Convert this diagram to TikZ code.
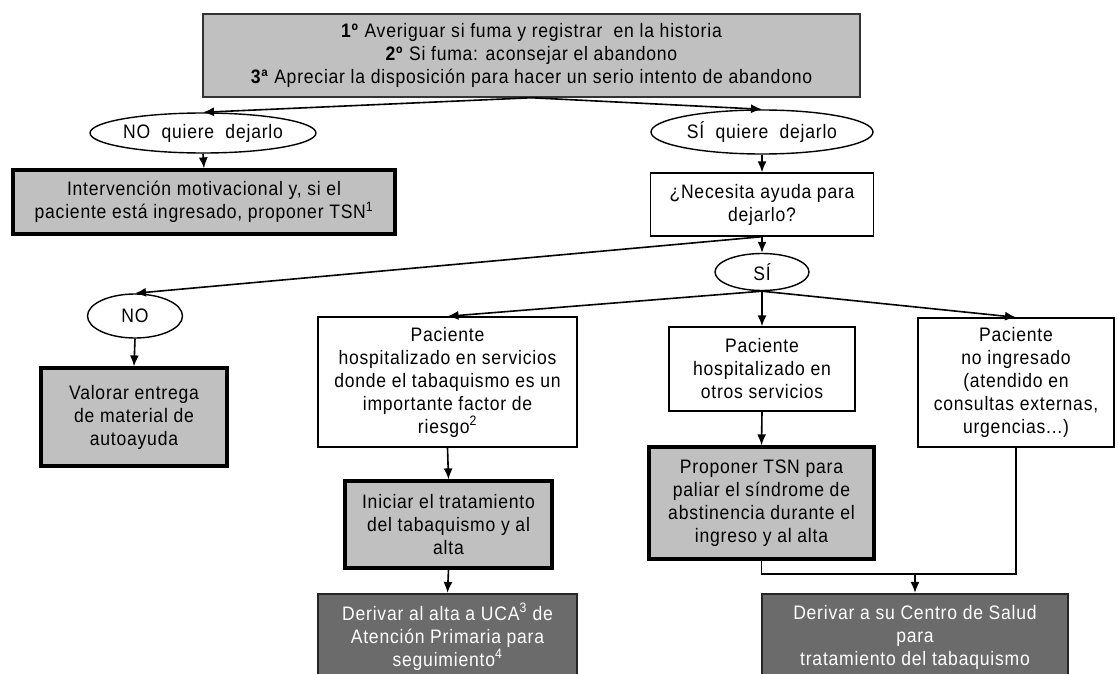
\documentclass[tikz,border=0pt]{standalone}
\usepackage{fontspec}
\setmainfont{Liberation Sans}[LetterSpace=4, FakeStretch=0.9]
\usetikzlibrary{arrows.meta,shapes.geometric}
\definecolor{lg}{HTML}{C0C0C0}
\definecolor{dg}{HTML}{6B6B6B}
\tikzset{
  base/.style={draw=black, align=center, inner sep=0pt, font=\fontsize{19.5}{23}\selectfont},
  plainbox/.style={base, fill=white, line width=1.4pt},
  greybox/.style={base, fill=lg, line width=3.2pt},
  darkbox/.style={base, fill=dg, text=white, draw=black!85, line width=2.2pt},
  topbox/.style={base, fill=lg, line width=1.5pt, draw=black!80},
  oval/.style={base, ellipse, fill=white, line width=1.4pt},
  arr/.style={-{Latex[length=11pt,width=9pt]}, line width=1.6pt},
  ln/.style={line width=1.6pt},
}
\begin{document}
\begin{tikzpicture}[x=1pt,y=-1pt]
\clip (0,0) rectangle (1118,674);
\fill[white] (0,0) rectangle (1118,674);

\node[topbox, minimum width=657pt, minimum height=83pt] (top) at (531.5,55.5)
  {\textbf{1º}\ Averiguar si fuma y registrar\ \ en la historia\\
   \textbf{2º}\ Si fuma: aconsejar el abandono\\
   \textbf{3ª}\ Apreciar la disposición para hacer un serio intento de abandono};

\node[oval, minimum width=213pt, minimum height=40pt] (noq) at (203,133) {NO\ \ quiere\ \ dejarlo};
\node[oval, minimum width=222pt, minimum height=44pt] (siq) at (762,132) {SÍ\ \ quiere\ \ dejarlo};

\node[greybox, minimum width=382pt, minimum height=64pt] (interv) at (204,202)
  {Intervención motivacional y, si el\\paciente está ingresado, proponer TSN\textsuperscript{1}};
\node[plainbox, minimum width=223pt, minimum height=63pt] (neces) at (762,204.5)
  {¿Necesita ayuda para\\dejarlo?};

\node[oval, minimum width=94pt, minimum height=37pt] (si) at (762,272) {SÍ};
\node[oval, minimum width=95pt, minimum height=44pt] (no) at (135,316) {NO};

\node[greybox, minimum width=186pt, minimum height=98pt] (valor) at (134,417)
  {Valorar entrega\\de material de\\autoayuda};

\node[plainbox, minimum width=259pt, minimum height=130pt] (pac1) at (447.5,382)
  {Paciente\\hospitalizado en servicios\\donde el tabaquismo es un\\importante factor de\\riesgo\textsuperscript{2}};
\node[plainbox, minimum width=186pt, minimum height=84pt] (pac2) at (762,369)
  {Paciente\\hospitalizado en\\otros servicios};
\node[plainbox, minimum width=196pt, minimum height=129pt] (pac3) at (1016,382.5)
  {Paciente\\no ingresado\\(atendido en\\consultas externas,\\urgencias...)};

\node[greybox, minimum width=207pt, minimum height=87pt] (inic) at (448.5,524.5)
  {Iniciar el tratamiento\\del tabaquismo y al\\alta};
\node[greybox, minimum width=225pt, minimum height=112pt] (prop) at (761.5,503)
  {Proponer TSN para\\paliar el síndrome de\\abstinencia durante el\\ingreso y al alta};

\node[darkbox, minimum width=259pt, minimum height=86pt] (der1) at (447.5,637)
  {Derivar al alta a UCA\textsuperscript{3} de\\Atención Primaria para\\seguimiento\textsuperscript{4}};
\node[darkbox, minimum width=306pt, minimum height=86pt] (der2) at (915,637)
  {Derivar a su Centro de Salud\\para\\tratamiento del tabaquismo};

\coordinate (j1) at (915,574);

\draw[arr] (top.south) -- (noq.north);
\draw[arr] (top.south) -- (siq.north);
\draw[arr] (noq.south) -- (interv.north);
\draw[arr] (siq.south) -- (neces.north);
\draw[arr] (neces.south) -- (si.north);
\draw[arr] (neces.south) -- (no.north);
\draw[arr] (no.south) -- (valor.north);
\draw[arr] (si.south) -- (pac1.north);
\draw[arr] (si.south) -- (pac2.north);
\draw[arr] (si.south) -- (pac3.north);
\draw[arr] (pac1.south) -- (inic.north);
\draw[arr] (inic.south) -- (der1.north);
\draw[arr] (pac2.south) -- (prop.north);
\draw[ln] (prop.south) |- (j1) -| (pac3.south);
\draw[arr] (j1) -- (der2.north);
\end{tikzpicture}
\end{document}
